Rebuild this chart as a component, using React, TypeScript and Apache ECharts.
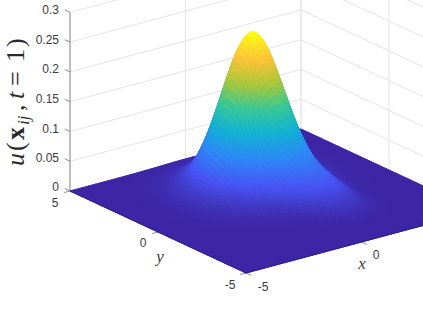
import React, { useEffect, useRef } from "react";
import * as echarts from "echarts";

// Values
const xTicks = [-5, 0, 5];
const yTicks = [-5, 0, 5];
const zTicks = [0, 0.05, 0.1, 0.15, 0.2, 0.25, 0.3];
const zTickLabels = ["0", "0.05", "0.1", "0.15", "0.2", "0.25", "0.3"];
const bellCentre = [0.15, 1.4];
// radial height profile of the main peak, sampled every 0.14 from r = 0
const bellProfile = [
  0.262, 0.2597, 0.253, 0.2423, 0.228, 0.2109, 0.1917, 0.1712, 0.1503, 0.1297, 0.1097,
  0.0916, 0.075, 0.0604, 0.0477, 0.0375, 0.0295, 0.024, 0.0185, 0.0145, 0.0112, 0.0085,
  0.0064, 0.0048, 0.0035, 0.0024, 0.0017, 0.0011, 0.0007, 0.0005, 0.0003, 0.0002, 0.0001, 0,
];
const nearRiseCentre = [0.9, -0.6];
// rise on the flank of the peak towards the right-hand corner, sampled every 0.25
const nearRise = [0.034, 0.0335, 0.031, 0.026, 0.02, 0.0135, 0.008, 0.0042, 0.0018, 0.0006, 0];
const farRiseCentre = [1.3, -1.8];
const farRise = [0.016, 0.0155, 0.0135, 0.0105, 0.0068, 0.0038, 0.0016, 0.0005, 0];
const parula = [
  [60, 38, 165], [72, 82, 244], [46, 135, 247], [18, 177, 214],
  [55, 200, 151], [171, 199, 57], [254, 195, 56], [249, 251, 21],
];

const MESH = 100;
const O = [246, 273];
const UX = [23.1, -6.2];
const UY = [-17.6, -8.2];
const UZ = -595.5;
const project = (x: number, y: number, z: number) => [
  O[0] + (x + 5) * UX[0] + (y + 5) * UY[0],
  O[1] + (x + 5) * UX[1] + (y + 5) * UY[1] + z * UZ,
];
const lookup = (t: number[], step: number, r: number) => {
  const p = r / step;
  const i = Math.floor(p);
  if (i >= t.length - 1) return 0;
  return t[i] + (t[i + 1] - t[i]) * (p - i);
};
const height = (x: number, y: number) =>
  lookup(bellProfile, 0.14, Math.hypot(x - bellCentre[0], y - bellCentre[1])) +
  lookup(nearRise, 0.25, Math.hypot(x - nearRiseCentre[0], y - nearRiseCentre[1])) +
  lookup(farRise, 0.25, Math.hypot(x - farRiseCentre[0], y - farRiseCentre[1]));
const colour = (u: number) => {
  const t = Math.min(1, Math.max(0, u / bellProfile[0])) * (parula.length - 1);
  const i = Math.min(parula.length - 2, Math.floor(t));
  const f = t - i;
  const c = parula[i].map((v, k) => Math.round(v + (parula[i + 1][k] - v) * f));
  return `rgb(${c[0]},${c[1]},${c[2]})`;
};

const GRID = "#e4e4e4";
const AXIS = "#8c8c8c";

export default function App() {
  const ref = useRef<HTMLDivElement>(null);
  useEffect(() => {
    document.body.style.margin = "0";
    const chart = echarts.init(ref.current!, undefined, { renderer: "svg" });

    const zTop = zTicks[zTicks.length - 1];
    const gridSegs: number[][] = [];
    for (const z of zTicks) {
      gridSegs.push([-5, 5, z, 5, 5, z]);
      gridSegs.push([5, 5, z, 5, -5, z]);
    }
    for (const x of xTicks) gridSegs.push([x, 5, 0, x, 5, zTop]);
    for (const y of yTicks) gridSegs.push([5, y, 0, 5, y, zTop]);

    const axisSegs: number[][] = [[-5, 5, 0, -5, 5, zTop]];
    for (const z of zTicks) axisSegs.push([-5, 5, z, -5, 5.3, z]);
    for (const y of yTicks) axisSegs.push([-5, y, 0, -5.25, y, 0]);
    for (const x of xTicks) axisSegs.push([x, -5, 0, x, -5.3, 0]);
    const edgeSegs: number[][] = [[-5, -5, 0, 5, -5, 0], [-5, -5, 0, -5, 5, 0]];

    const cells: number[][] = [];
    for (let i = MESH - 1; i >= 0; i--) for (let j = MESH - 1; j >= 0; j--) cells.push([i, j]);
    const d = 10 / MESH;

    const lineSeries = (data: number[][], stroke: string, width: number, z: number) => ({
      type: "custom",
      coordinateSystem: "cartesian2d",
      silent: true,
      clip: false,
      z,
      data,
      renderItem: (_: any, api: any) => {
        const a = project(api.value(0), api.value(1), api.value(2));
        const b = project(api.value(3), api.value(4), api.value(5));
        const p = api.coord(a);
        const q = api.coord(b);
        return {
          type: "line",
          shape: { x1: p[0], y1: p[1], x2: q[0], y2: q[1] },
          style: { stroke, lineWidth: width, fill: "none" },
        };
      },
    });

    const t = (text: string, x: number, y: number, font: string, extra: any = {}) => ({
      type: "text",
      x,
      y,
      silent: true,
      style: { text, font, fill: "#3a3a3a", align: "center", verticalAlign: "middle", ...extra },
    });
    const tickFont = '12px "Liberation Sans", Arial, sans-serif';
    const zLabelY = [187, 158, 128.5, 99, 69, 39.5, 9.5];
    const serif = '"Liberation Serif", serif';
    const labelY = 28;
    const zl = (text: string, s: number, font: string, dy = 0) => ({
      type: "text",
      x: s,
      y: labelY + dy,
      silent: true,
      style: { text, font, fill: "#2a2a2a", align: "left", verticalAlign: "bottom" },
    });

    chart.setOption({
      animation: false,
      grid: { left: 0, right: 0, top: 0, bottom: 0 },
      xAxis: { type: "value", min: 0, max: 423, show: false },
      yAxis: { type: "value", min: 0, max: 317, inverse: true, show: false },
      series: [
        lineSeries(gridSegs, GRID, 1, 1),
        lineSeries(axisSegs, AXIS, 1, 2),
        {
          type: "custom",
          coordinateSystem: "cartesian2d",
          silent: true,
          clip: false,
          progressive: 0,
          z: 3,
          data: cells,
          renderItem: (_: any, api: any) => {
            const i = api.value(0);
            const j = api.value(1);
            const x0 = -5 + i * d;
            const y0 = -5 + j * d;
            const corners = [
              [x0, y0],
              [x0 + d, y0],
              [x0 + d, y0 + d],
              [x0, y0 + d],
            ];
            const pts = corners.map(([x, y]) => api.coord(project(x, y, height(x, y))));
            const col = colour(height(x0 + d / 2, y0 + d / 2));
            return {
              type: "polygon",
              shape: { points: pts },
              style: { fill: col, stroke: col, lineWidth: 1 },
            };
          },
        },
        lineSeries(edgeSegs, "#261c80", 0.8, 4),
      ],
      graphic: {
        elements: [
          ...zTickLabels.map((s, k) => t(s, 59, zLabelY[k], tickFont, { align: "right" })),
          t(String(yTicks[2]), 55, 203, tickFont),
          t(String(yTicks[1]), 143, 243, tickFont),
          t(String(yTicks[0]), 230, 285, tickFont),
          t(String(xTicks[0]), 263, 287, tickFont),
          t(String(xTicks[1]), 376, 255, tickFont),
          t("y", 160, 256, `italic 17px ${serif}`),
          t("x", 362, 263, `italic 17px ${serif}`),
          {
            type: "group",
            x: 0,
            y: 166,
            rotation: Math.PI / 2,
            children: [
              zl("u", 0, `italic 26px ${serif}`),
              zl("(", 15, `26px ${serif}`),
              zl("x", 26, `bold 26px ${serif}`),
              zl("ij", 41, `italic 17px ${serif}`, 4),
              zl(",", 55, `26px ${serif}`),
              zl("t", 67, `italic 26px ${serif}`),
              zl("=", 80, `26px ${serif}`),
              zl("1", 104, `26px ${serif}`),
              zl(")", 119, `26px ${serif}`),
            ],
          },
        ],
      },
    });
    return () => chart.dispose();
  }, []);
  return <div ref={ref} style={{ position: "absolute", left: 0, top: 0, width: 423, height: 317, overflow: "hidden" }} />;
}
